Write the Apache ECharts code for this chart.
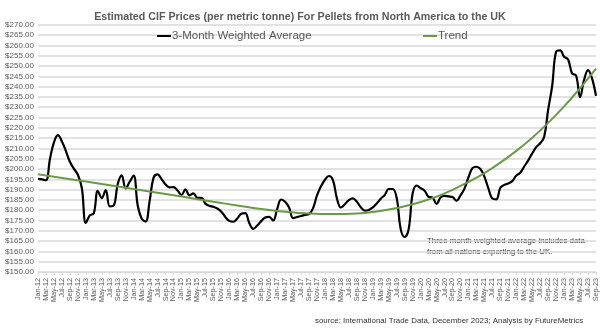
<!DOCTYPE html>
<html><head><meta charset="utf-8">
<script src="https://cdn.jsdelivr.net/npm/echarts@6/dist/echarts.min.js"></script>
<style>html,body{margin:0;padding:0;background:#fff}#c{width:600px;height:333px}</style>
</head><body><div id="c"></div>
<script>
const monthNames = ['Jan','Feb','Mar','Apr','May','Jun','Jul','Aug','Sep','Oct','Nov','Dec'];
const startYear = 12, monthCount = 141;
const categories = [];
for (let k = 0; k < monthCount; k++) categories.push(monthNames[k % 12] + '-' + (startYear + Math.floor(k / 12)));

const weightedAvg = [
195.2,195.0,194.5,204.9,212.9,216.4,213.4,208.7,203.5,200.2,
197.2,190.8,173.8,177.5,178.5,189.4,185.9,189.8,181.9,182.3,
192.6,196.9,190.6,193.8,196.8,182.5,176.0,174.5,184.4,195.8,
197.4,195.1,192.5,191.1,191.2,189.6,187.4,190.1,187.2,188.2,
186.0,186.0,183.2,182.1,181.7,180.8,179.3,176.7,174.8,174.4,
176.0,178.3,178.6,173.8,170.9,172.6,174.7,176.5,176.8,175.0,
180.5,185.2,184.1,181.3,176.2,176.7,177.2,177.7,178.1,180.9,
187.2,191.6,194.8,196.6,194.6,185.7,181.3,182.9,184.9,185.7,
184.1,181.4,179.8,180.1,181.4,183.3,185.6,187.4,190.3,190.3,
186.0,170.8,167.0,170.8,188.2,192.0,190.7,189.5,186.5,186.1,
183.0,186.2,187.0,186.7,186.4,184.6,187.2,190.5,196.0,200.4,
201.1,200.0,196.3,190.6,185.7,185.3,190.9,192.3,193.0,194.1,
196.8,198.2,201.2,204.2,207.6,210.6,212.5,215.7,228.8,240.3,
257.0,257.6,254.5,253.2,246.4,245.4,234.9,243.2,248.0,244.0,
235.5];

const trendMonthIdx = [0,12,24,36,44,50,56,62,68,74,80,84,88,92,96,100,104,108,112,116,120,124,128,132,136,140];
const trendValues  = [197.4,193.9,190.3,186.6,184.1,182.3,180.6,179.3,178.4,178.1,178.4,179.1,180.3,181.9,184.0,186.6,189.9,193.7,198.0,203.1,208.8,215.2,222.4,230.4,239.2,248.7];

const seriesNames = ['3-Month Weighted Average', 'Trend'];
const titleText = 'Estimated CIF Prices (per metric tonne) For Pellets from North America to the UK';
const noteLines = ['Three month weighted average includes data', 'from all nations exporting to the UK.'];
const sourceText = 'source: International Trade Data, December 2023; Analysis by FutureMetrics';

const chart = echarts.init(document.getElementById('c'), null, {renderer: 'canvas'});
const FONT = 'Liberation Sans';
chart.setOption({
  animation: false,
  backgroundColor: '#fff',
  textStyle: {fontFamily: FONT},
  title: {text: titleText, left: 'center', top: 7,
    textStyle: {fontSize: 10.7, fontWeight: 'bold', color: '#595959', fontFamily: FONT}},
  legend: [
    {data: [seriesNames[0]], left: 152, top: 25, icon: 'rect', itemWidth: 14, itemHeight: 2, itemGap: 2,
     textStyle: {fontSize: 11.5, color: '#595959', padding: [0,0,0,-4]}},
    {data: [seriesNames[1]], left: 418, top: 25, icon: 'rect', itemWidth: 14, itemHeight: 2,
     textStyle: {fontSize: 11.5, color: '#595959', padding: [0,0,0,-4]}}
  ],
  grid: {left: 38, right: 4, top: 24.8, bottom: 61, containLabel: false},
  xAxis: {type: 'category', data: categories, boundaryGap: false,
    axisLine: {show: true, lineStyle: {color: '#d9d9d9', width: 1}},
    axisTick: {show: true, interval: 1, length: 3, lineStyle: {color: '#d9d9d9'}},
    axisLabel: {interval: 1, rotate: 90, fontSize: 7.2, color: '#595959', margin: 6}},
  yAxis: {type: 'value', min: 150, max: 270, interval: 5,
    axisLine: {show: false}, axisTick: {show: false},
    axisLabel: {fontSize: 8, color: '#595959', margin: 4, formatter: v => '$' + v.toFixed(2)},
    splitLine: {lineStyle: {color: '#d9d9d9', width: 1.6}}},
  graphic: [
    {type: 'text', left: 427, top: 235, style: {text: noteLines.join('\n'), fontSize: 7.9, lineHeight: 11, fill: '#333', fontFamily: FONT}},
    {type: 'text', left: 315, top: 317, style: {text: sourceText, fontSize: 7.9, fill: '#333', fontFamily: FONT}}
  ],
  series: [
    {name: seriesNames[0], type: 'line', data: weightedAvg, smooth: 0.4, symbol: 'none',
     lineStyle: {color: '#000', width: 2.2}, itemStyle: {color: '#000'}, z: 3},
    {name: seriesNames[1], type: 'line', data: trendMonthIdx.map((m, i) => [categories[m], trendValues[i]]),
     smooth: 0.4, symbol: 'none', connectNulls: true,
     lineStyle: {color: '#6a9a48', width: 2}, itemStyle: {color: '#6a9a48'}, z: 4}
  ]
});
</script></body></html>
